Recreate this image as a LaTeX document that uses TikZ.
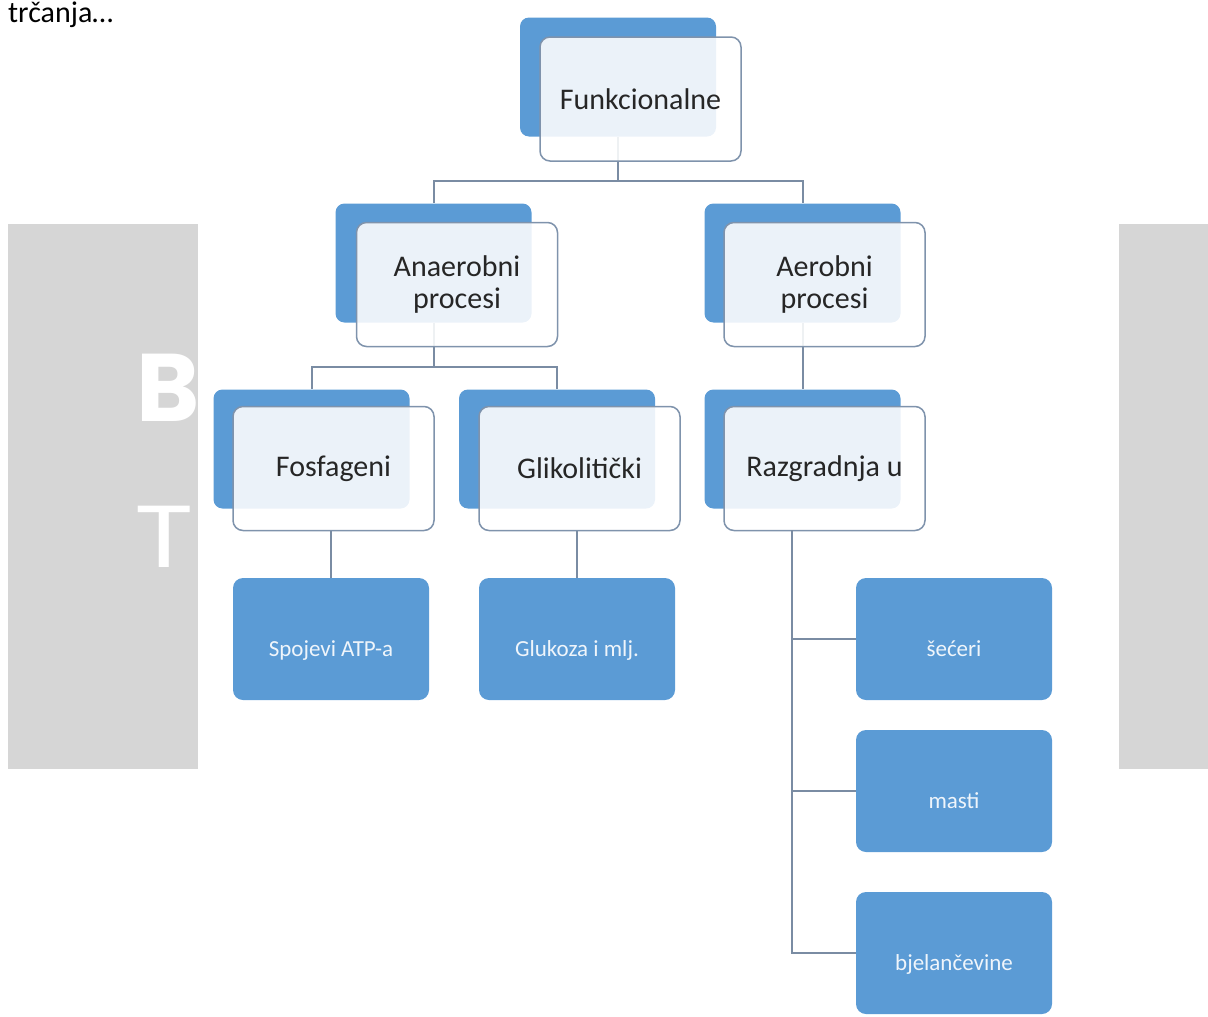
\documentclass[tikz,border=0pt]{standalone}
\usepackage{fontspec}
\setmainfont{Carlito}
\newfontfamily\popfont{Poppins}
\definecolor{sablue}{HTML}{5B9BD5}
\definecolor{panelgrey}{HTML}{D6D6D6}
\definecolor{connc}{HTML}{7A8CA3}
\definecolor{fborder}{HTML}{7F93AC}
\definecolor{txtc}{HTML}{262626}
\begin{document}
\begin{tikzpicture}[x=1pt,y=-1pt,
  backbox/.style={fill=sablue, rounded corners=9pt, minimum width=196pt, minimum height=119pt, inner sep=0pt},
  frontbox/.style={fill=white, fill opacity=0.88, text opacity=1, draw=fborder, line width=1.5pt, rounded corners=10pt, minimum width=201pt, minimum height=124pt, inner sep=0pt, align=center, text=txtc, font=\fontsize{30}{32}\selectfont},
  leaf/.style={fill=sablue, rounded corners=10pt, minimum width=196pt, minimum height=122pt, inner sep=0pt, text=white!90!sablue, font=\fontsize{23}{26}\selectfont, text height=40pt, text depth=6pt},
  conn/.style={draw=connc, line width=2pt}]
\path[use as bounding box] (0,0) rectangle (1208,1017);
\clip (0,0) rectangle (1208,1017);

% top text
\node[anchor=base west, inner sep=0pt, font=\fontsize{30}{34}\selectfont, text=black] (trc) at (8,23) {trčanja…};

% grey panels
\fill[panelgrey] (8,224) rectangle (198,769);
\fill[panelgrey] (1119,224) rectangle (1208,769);
\node[anchor=base west, inner sep=0pt, text=white, font=\popfont\bfseries\fontsize{96}{96}\selectfont] (lb) at (136,421) {B};
\node[anchor=base west, inner sep=0pt, text=white, xscale=1.25, font=\popfont\fontsize{88}{88}\selectfont] (lt) at (134,567) {T};

% back boxes
\node[backbox] (funB) at (618,77) {};
\node[backbox] (anaB) at (433.5,263) {};
\node[backbox] (aerB) at (802.5,263) {};
\node[backbox] (fosB) at (311.5,449) {};
\node[backbox] (gliB) at (557,449) {};
\node[backbox] (razB) at (802.5,449) {};

% connectors
\draw[conn] (funB.south) -- ++(0,44) -| (anaB.north);
\draw[conn] (funB.south) -- ++(0,44) -| (aerB.north);
\draw[conn] (anaB.south) -- ++(0,44) -| (fosB.north);
\draw[conn] (anaB.south) -- ++(0,44) -| (gliB.north);
\draw[conn] (aerB.south) -- (razB.north);

% front boxes
\node[frontbox] (funF) at (640.5,99) {Funkcionalne};
\node[frontbox] (anaF) at (457,284.5) {Anaerobni\\procesi};
\node[frontbox] (aerF) at (824.5,284.5) {Aerobni\\procesi};
\node[frontbox] (fosF) at (333.5,468.5) {Fosfageni};
\node[frontbox] (gliF) at (579.5,468.5) {Glikolitički};
\node[frontbox] (razF) at (824.5,468.5) {Razgradnja u};

% leaves
\node[leaf] (spo) at (331,639) {Spojevi ATP-a};
\node[leaf] (glu) at (577,639) {Glukoza i mlj.};
\node[leaf] (sec) at (954,639) {šećeri};
\node[leaf] (mas) at (954,791) {masti};
\node[leaf] (bje) at (954,953) {bjelančevine};

\draw[conn] (fosF.south -| spo.north) -- (spo.north);
\draw[conn] (gliF.south -| glu.north) -- (glu.north);
\coordinate (rz) at (792,530);
\draw[conn] (rz) |- (sec.west);
\draw[conn] (rz) |- (mas.west);
\draw[conn] (rz) |- (bje.west);
\end{tikzpicture}
\end{document}
